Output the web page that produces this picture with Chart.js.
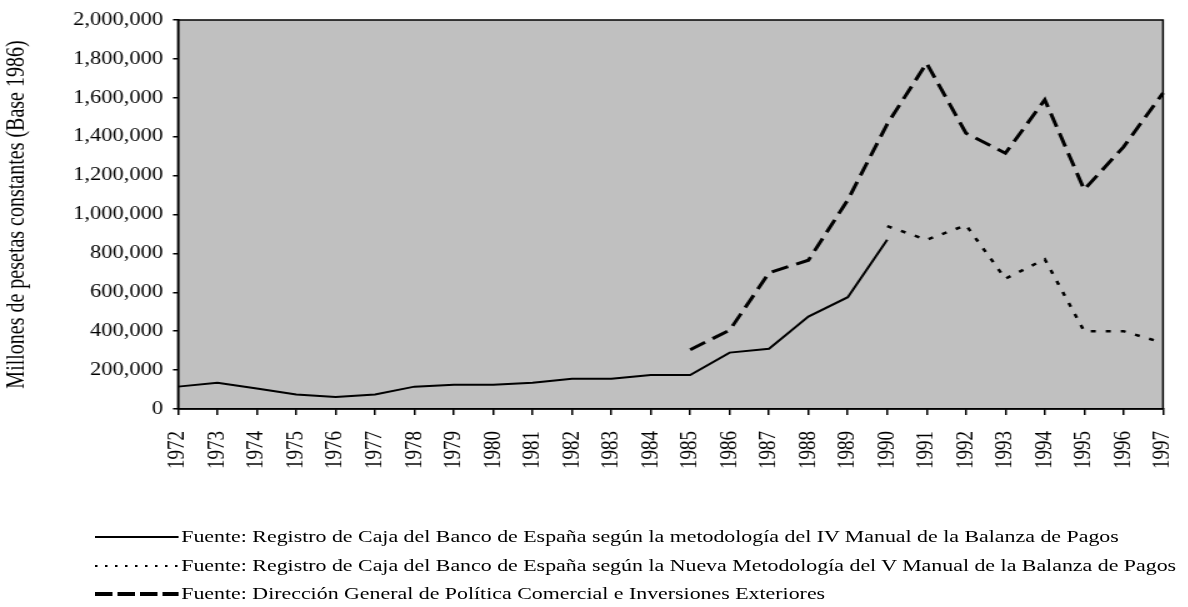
<!DOCTYPE html>
<html>
<head>
<meta charset="utf-8">
<script src="https://cdn.jsdelivr.net/npm/chart.js@4"></script>
<style>
  body { margin: 0; background: #fff; }
  #wrap { position: absolute; left: 0; top: 0; width: 950px; height: 607px; transform: scaleX(1.25); transform-origin: 0 0; }
  #box { position: absolute; left: 0; top: 0; width: 950px; height: 480px; }
  .row { position: absolute; left: 76px; height: 24px; font: 17.5px "Liberation Serif", "Times New Roman", serif; color: #000; white-space: nowrap; }
  .row svg { position: absolute; left: 0; top: 0; }
  .row span { position: absolute; left: 69px; top: 1px; }
</style>
</head>
<body>
<div id="wrap">
  <div id="box"><canvas id="chart"></canvas></div>
  <div class="row" style="top:525px">
    <svg width="67" height="24"><line x1="0" y1="12" x2="67" y2="12" stroke="#000" stroke-width="2"/></svg>
    <span>Fuente: Registro de Caja del Banco de España según la metodología del IV Manual de la Balanza de Pagos</span>
  </div>
  <div class="row" style="top:554px">
    <svg width="67" height="24"><line x1="0" y1="12" x2="67" y2="12" stroke="#000" stroke-width="2" stroke-dasharray="2 6"/></svg>
    <span>Fuente: Registro de Caja del Banco de España según la Nueva Metodología del V Manual de la Balanza de Pagos</span>
  </div>
  <div class="row" style="top:582px">
    <svg width="67" height="24"><line x1="0" y1="12" x2="67" y2="12" stroke="#000" stroke-width="4" stroke-dasharray="14 4"/></svg>
    <span>Fuente: Dirección General de Política Comercial e Inversiones Exteriores</span>
  </div>
</div>
<script>
var years = ['1972', '1973', '1974', '1975', '1976', '1977', '1978', '1979', '1980', '1981', '1982', '1983', '1984',
  '1985', '1986', '1987', '1988', '1989', '1990', '1991', '1992', '1993', '1994', '1995', '1996', '1997'];

// IV Manual (1972-1990)
var manualIV = [115000, 135000, 105000, 75000, 62000, 75000, 115000, 125000, 125000, 135000, 155000, 155000, 175000,
  175000, 290000, 310000, 475000, 575000, 870000, null, null, null, null, null, null, null];

// V Manual (1990-1997)
var manualV = [null, null, null, null, null, null, null, null, null, null, null, null, null,
  null, null, null, null, null, 940000, 870000, 945000, 670000, 770000, 400000, 400000, 340000];

// Direccion General (1985-1997)
var direccion = [null, null, null, null, null, null, null, null, null, null, null, null, null,
  305000, 405000, 700000, 765000, 1075000, 1465000, 1778000, 1418000, 1315000, 1590000, 1128000, 1348000, 1625000];

var fam = '"Liberation Serif", "Times New Roman", serif';

var plotBg = {
  id: 'plotBg',
  beforeDraw: function (chart) {
    var a = chart.chartArea, ctx = chart.ctx;
    ctx.save();
    ctx.fillStyle = '#c0c0c0';
    ctx.fillRect(a.left, a.top, a.right - a.left, a.bottom - a.top);
    ctx.restore();
  },
  afterDatasetsDraw: function (chart) {
    var a = chart.chartArea, ctx = chart.ctx;
    ctx.save();
    ctx.strokeStyle = '#000';
    ctx.lineWidth = 1.5;
    ctx.strokeRect(a.left, a.top, a.right - a.left, a.bottom - a.top);
    ctx.restore();
  }
};

new Chart(document.getElementById('chart'), {
  type: 'line',
  data: {
    labels: years,
    datasets: [{
      label: 'IV Manual',
      data: manualIV,
      borderColor: '#000',
      borderWidth: 2,
      pointRadius: 0,
      tension: 0
    }, {
      label: 'V Manual',
      data: manualV,
      borderColor: '#000',
      borderWidth: 2.5,
      borderDash: [4, 8],
      pointRadius: 0,
      tension: 0
    }, {
      label: 'Direccion General',
      data: direccion,
      borderColor: '#000',
      borderWidth: 3,
      borderDash: [14, 7],
      pointRadius: 0,
      tension: 0
    }]
  },
  options: {
    responsive: true,
    maintainAspectRatio: false,
    animation: false,
    layout: { padding: { top: 20, right: 19.6, left: 0, bottom: 0 } },
    plugins: {
      legend: { display: false },
      tooltip: { enabled: false }
    },
    scales: {
      x: {
        offset: false,
        afterFit: function (scale) {
          scale.height = 71;
          scale.paddingLeft = 0;
          scale.paddingRight = 0;
        },
        grid: { drawOnChartArea: false, drawTicks: true, tickLength: 6, color: '#000', lineWidth: 1.5 },
        border: { display: true, color: '#000', width: 1.5 },
        ticks: {
          color: '#000',
          font: { family: fam, size: 19 },
          padding: 16,
          minRotation: 90,
          maxRotation: 90,
          autoSkip: false
        }
      },
      y: {
        min: 0,
        max: 2000000,
        afterFit: function (scale) { scale.width = 142.4; },
        grid: { drawOnChartArea: false, drawTicks: true, tickLength: 4, color: '#000', lineWidth: 1.5 },
        border: { display: true, color: '#000', width: 1.5 },
        ticks: {
          color: '#000',
          font: { family: fam, size: 18 },
          padding: 8,
          stepSize: 200000,
          callback: function (v) { return v.toLocaleString('en-US'); }
        },
        title: {
          display: true,
          text: 'Millones de pesetas constantes (Base 1986)',
          color: '#000',
          font: { family: fam, size: 20 },
          padding: { top: 2, bottom: 0 }
        }
      }
    }
  },
  plugins: [plotBg]
});
</script>
</body>
</html>
